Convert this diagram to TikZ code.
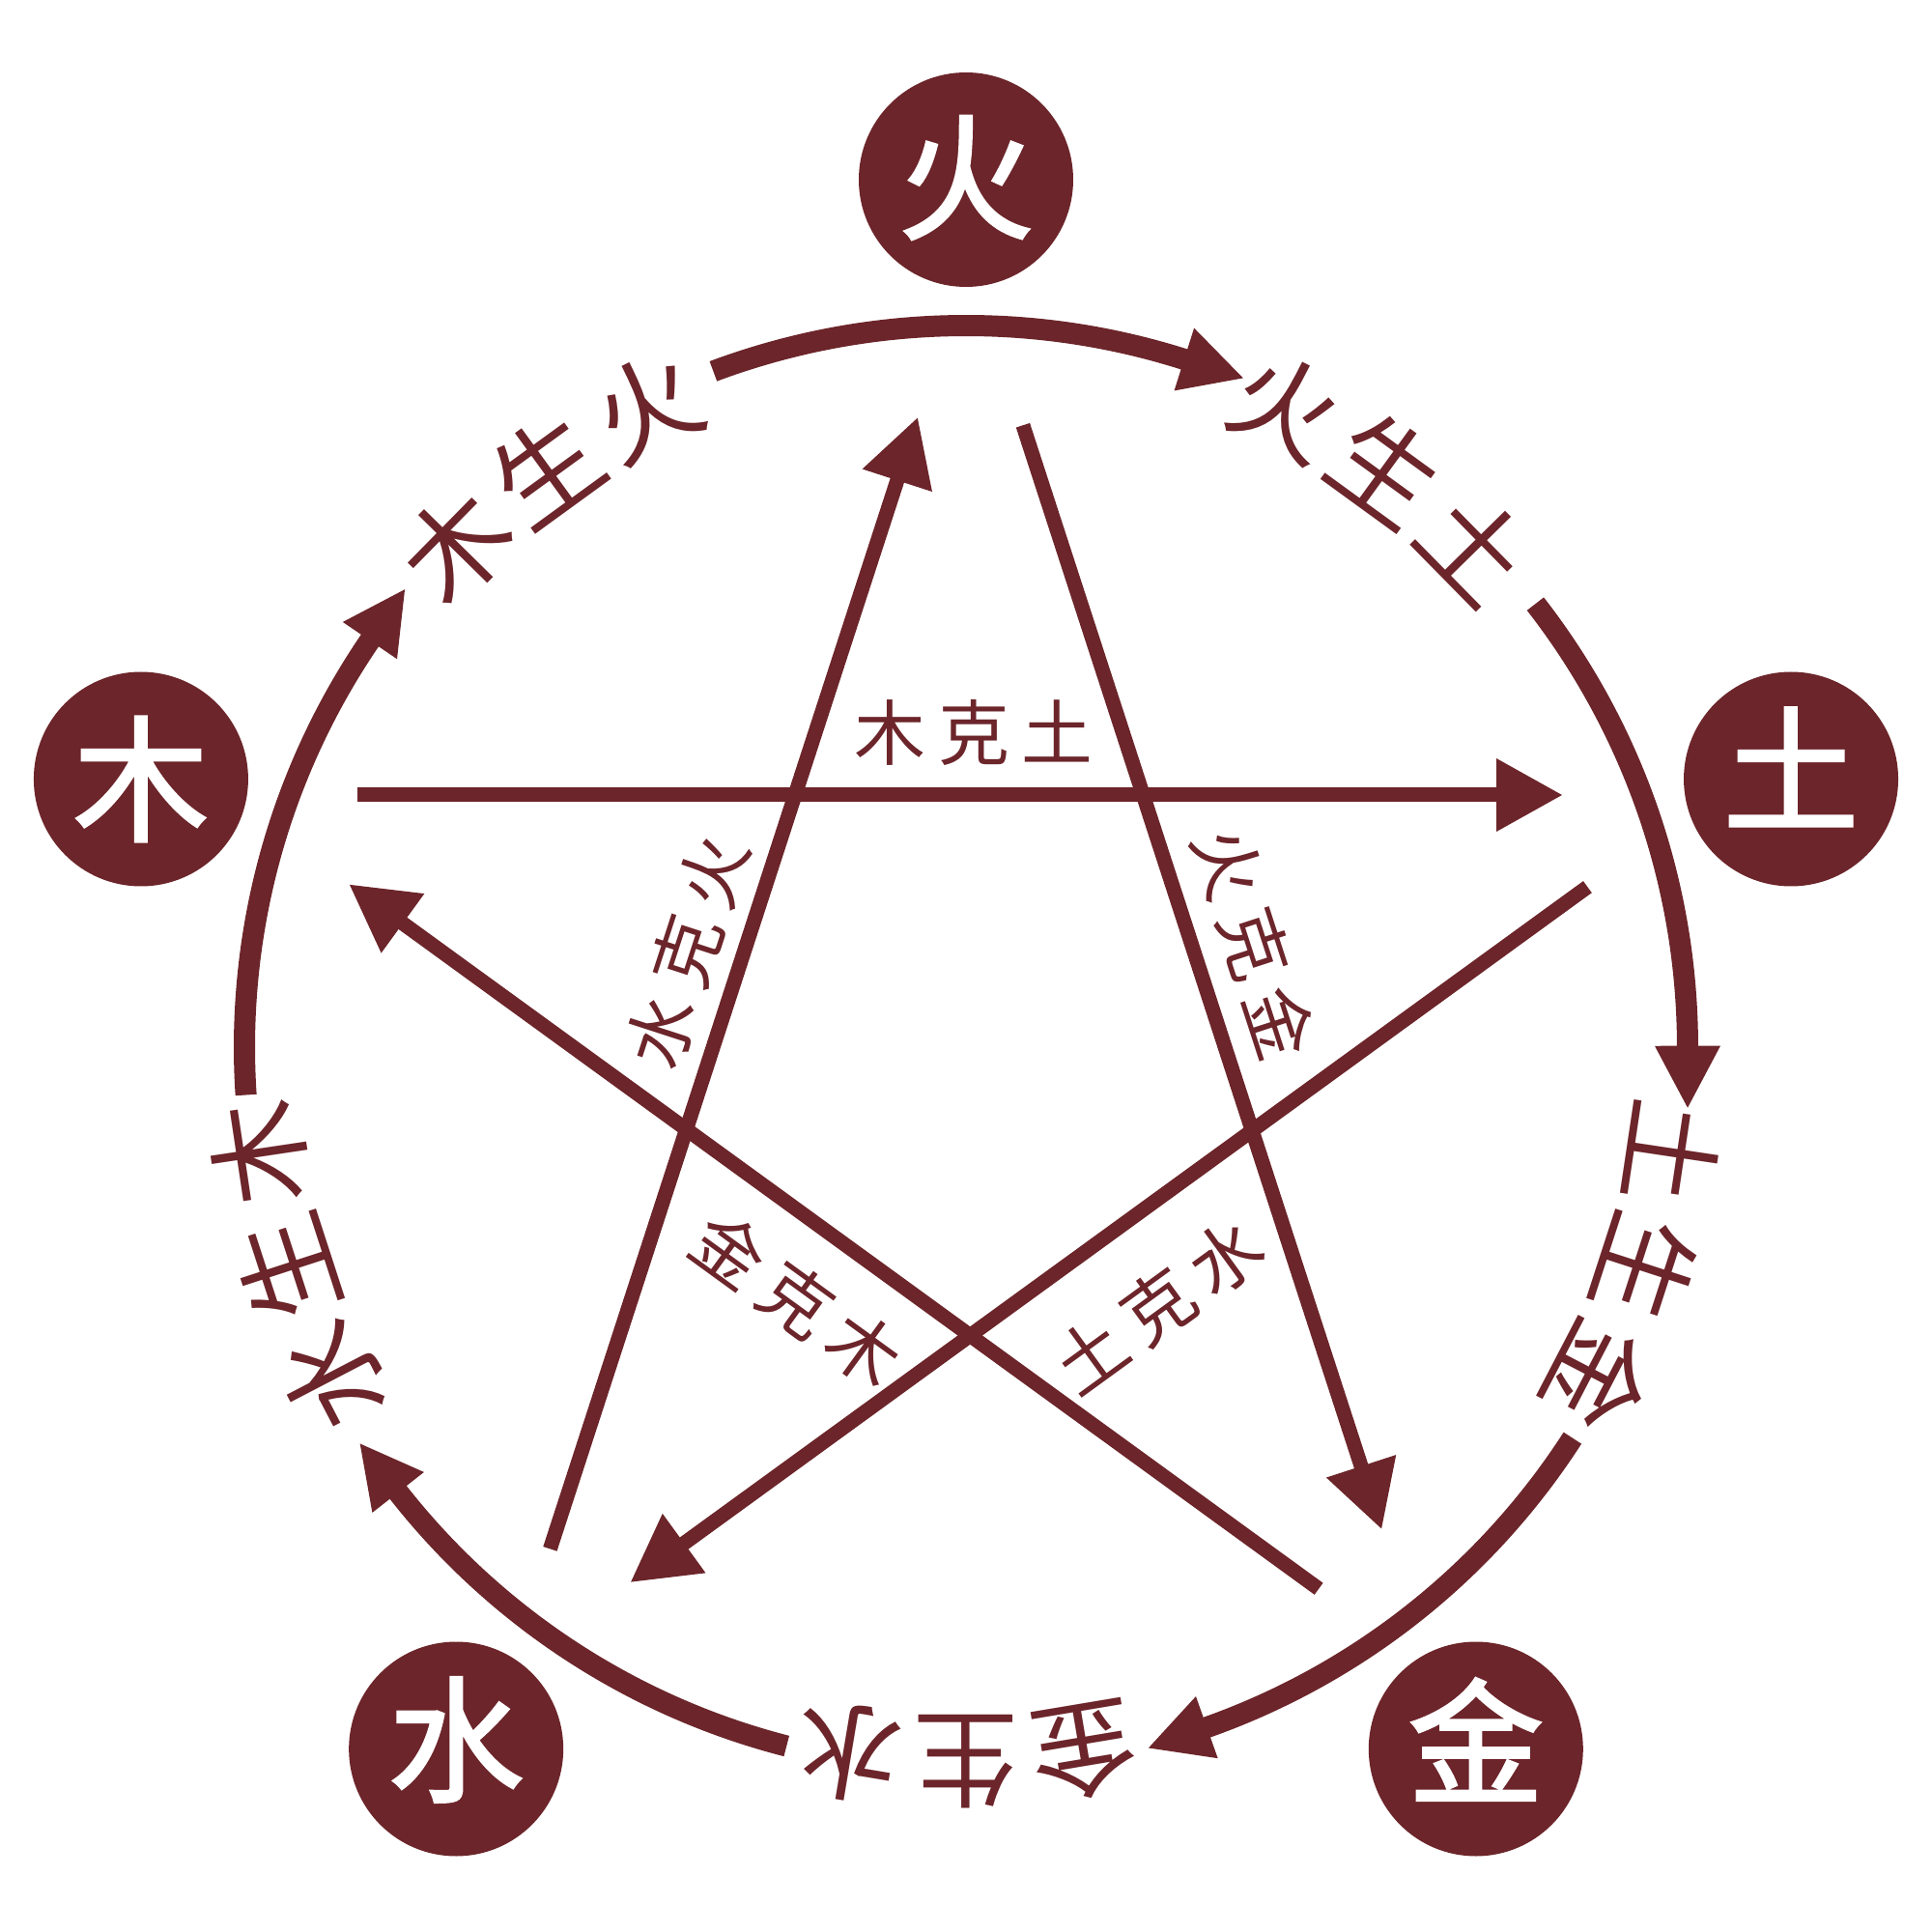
\documentclass[tikz,border=0pt]{standalone}
\usepackage{fontspec}
\newfontfamily\cjk{Noto Sans CJK SC}
\newfontfamily\cjkb{Noto Sans CJK SC}[FakeBold=2]
\usetikzlibrary{calc}
\definecolor{wx}{RGB}{108,37,42}
\begin{document}
\begin{tikzpicture}[
  elem/.style={circle, fill=wx, minimum size=2.22cm, inner sep=0pt},
  elemtxt/.style={inner sep=0pt, text=white, font=\cjkb\fontsize{40}{40}\selectfont},
  outlab/.style={inner sep=0pt, text=wx, font=\cjk\fontsize{31}{31}\selectfont},
  inlab/.style={inner sep=0pt, text=wx, font=\cjk\fontsize{21}{21}\selectfont},
  outarc/.style={draw=wx, line width=0.22cm},
  inline/.style={draw=wx, line width=0.15cm},
  tiphead/.style={fill=wx},
]
\fill[white] (-10,-9.16) rectangle (10,10.84);
\useasboundingbox (-10,-9.16) rectangle (10,10.84);
\coordinate (O) at (0,0);

% element circles, generating arcs and their labels
\foreach \th/\so/\eo/\dy/\ch/\ca/\cb/\cc [count=\i] in {90/20.5/22.5/0.02/火/火/生/土, 18/19.9/22.8/0.127/土/土/生/金, -54/21.2/21.4/0.10/金/金/生/水, -126/21.6/20.8/0.095/水/水/生/木, 162/21.8/21.2/0/木/木/生/火}{
  \node[elem] (el\i) at (\th:8.98) {};
  \node[elemtxt] (et\i) at ($(el\i)+(0,\dy)$) {\ch};
  \pgfmathsetmacro{\sa}{\th+\so}
  \pgfmathsetmacro{\ea}{\th-\eo}
  \pgfmathsetmacro{\eb}{\ea+4.9}
  \pgfmathsetmacro{\ec}{\eb-0.4}
  \coordinate (arcs\i) at (\sa:7.47);
  \coordinate (arct\i) at (\ea:7.497);
  \draw[outarc] (arcs\i) arc[start angle=\sa, end angle=\ec, radius=7.47];
  \fill[tiphead] (\eb:7.13) -- (\eb:7.81) -- (arct\i) -- cycle;
  \pgfmathsetmacro{\la}{\th-36+9.5}
  \pgfmathsetmacro{\lb}{\th-36}
  \pgfmathsetmacro{\lc}{\th-36-9.5}
  \node[outlab, rotate=\la-90] (sa\i) at (\la:7.4) {\ca};
  \node[outlab, rotate=\lb-90] (sb\i) at (\lb:7.4) {\cb};
  \node[outlab, rotate=\lc-90] (sc\i) at (\lc:7.4) {\cc};
}

% pentagram of overcoming arrows
\foreach \ph/\d/\ts/\te/\ld/\lt/\ca/\cb/\cc/\rot [count=\i] in {
   90/2.61/6.30/6.17/3.26/0.08/木/克/土/0,
   18/2.55/5.94/6.07/3.17/-0.10/火/克/金/-72,
  -54/2.44/6.18/6.06/3.34/-0.03/土/克/水/36,
 -126/2.39/6.25/6.15/3.14/-0.12/金/克/木/-36,
  162/2.49/6.27/6.04/3.05/0.05/水/克/火/72}{
  \pgfmathsetmacro{\tb}{\te-0.68}
  \pgfmathsetmacro{\tc}{\te-0.64}
  \coordinate (ks\i) at ($(\ph:\d)+(\ph+90:\ts)$);
  \coordinate (kb\i) at ($(\ph:\d)+(\ph-90:\tb)$);
  \coordinate (kc\i) at ($(\ph:\d)+(\ph-90:\tc)$);
  \coordinate (ke\i) at ($(\ph:\d)+(\ph-90:\te)$);
  \draw[inline] (ks\i) -- (kc\i);
  \fill[tiphead] ($(kb\i)+(\ph:0.38)$) -- ($(kb\i)+(\ph:-0.38)$) -- (ke\i) -- cycle;
  \node[inlab, rotate=\rot] (kl\i) at ($(\ph:\ld)+(\ph-90:\lt)$) {\ca\hspace{0.13cm}\cb\hspace{0.13cm}\cc};
}
\end{tikzpicture}
\end{document}
